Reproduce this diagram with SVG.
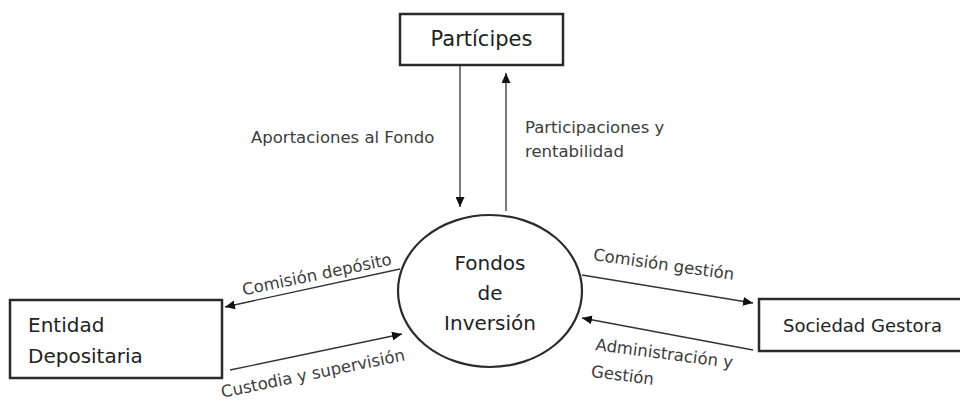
<svg xmlns="http://www.w3.org/2000/svg" width="960" height="402" viewBox="0 0 960 402">
<style>
.box{fill:#fff;stroke:#2a2a2a;stroke-width:2.5}
.ell{fill:#fff;stroke:#2a2a2a;stroke-width:2.2}
.node{font-family:"DejaVu Sans","Liberation Sans",sans-serif;fill:#222}
.lbl{font-family:"DejaVu Sans","Liberation Sans",sans-serif;font-size:16.5px;fill:#3c3c3c}
.con{stroke:#333;stroke-width:1.3;fill:none;marker-end:url(#ah)}
</style>
<defs>
<marker id="ah" markerWidth="11" markerHeight="9" refX="10" refY="4.5" orient="auto" markerUnits="userSpaceOnUse">
<path d="M0,0 L10,4.5 L0,9 z" fill="#111"/>
</marker>
</defs>
<rect width="960" height="402" fill="#fff"/>
<g id="connectors">
<line class="con" x1="460" y1="65" x2="460" y2="207"/>
<line class="con" x1="506" y1="211" x2="506" y2="73"/>
<line class="con" x1="400" y1="269" x2="225" y2="307"/>
<line class="con" x1="230" y1="370" x2="402" y2="334"/>
<line class="con" x1="582" y1="275" x2="753" y2="303"/>
<line class="con" x1="753" y1="350" x2="582" y2="318"/>
<text class="lbl" x="251" y="143">Aportaciones al Fondo</text>
<text class="lbl" x="525" y="133">Participaciones y</text>
<text class="lbl" x="525" y="157">rentabilidad</text>
<text class="lbl" x="318" y="280" text-anchor="middle" transform="rotate(-11.7 318 280)">Comisión depósito</text>
<text class="lbl" x="314" y="379" text-anchor="middle" font-size="16" transform="rotate(-11.6 314 379)">Custodia y supervisión</text>
<text class="lbl" x="663" y="270" text-anchor="middle" font-size="16" transform="rotate(8 663 270)">Comisión gestión</text>
<g transform="rotate(7.5 595 350)">
<text class="lbl" x="595" y="350">Administración y</text>
<text class="lbl" x="594" y="377">Gestión</text>
</g>
</g>
<g id="participes">
<rect class="box" x="400" y="14" width="163" height="51"/>
<text class="node" x="481.5" y="46" text-anchor="middle" font-size="21" fill="#111">Partícipes</text>
</g>
<g id="fondos">
<ellipse class="ell" cx="490" cy="291" rx="92" ry="76"/>
<text class="node" x="490" y="270" text-anchor="middle" font-size="20">Fondos</text>
<text class="node" x="490" y="300" text-anchor="middle" font-size="20">de</text>
<text class="node" x="490" y="330" text-anchor="middle" font-size="20">Inversión</text>
</g>
<g id="entidad">
<rect class="box" x="10" y="300" width="212" height="78"/>
<text class="node" x="28" y="332" font-size="20">Entidad</text>
<text class="node" x="28" y="363" font-size="20">Depositaria</text>
</g>
<g id="sociedad">
<rect class="box" x="759" y="299" width="205" height="52"/>
<text class="node" x="783" y="332" font-size="18">Sociedad Gestora</text>
</g>
</svg>
